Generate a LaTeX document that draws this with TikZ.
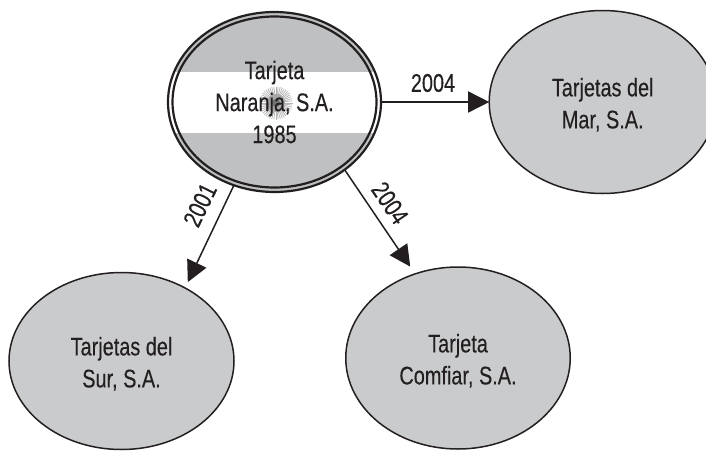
\documentclass[tikz,border=0pt]{standalone}
\usepackage{fontspec}
\setmainfont[FakeStretch=0.78,FakeBold=0.25]{Liberation Sans}
\usetikzlibrary{shapes.geometric,arrows.meta}
\definecolor{ink}{HTML}{231F20}
\definecolor{disc}{HTML}{C9CBCD}
\definecolor{band}{HTML}{BEC0C2}
\newcommand\lift{\rule{0pt}{24pt}}
\tikzset{
  disc/.style={ellipse,draw=ink,line width=1.5pt,fill=disc,inner sep=0pt,outer sep=0pt,text=ink,align=center,font=\fontsize{25.5}{32}\selectfont},
  ring/.style={ellipse,draw=ink,line width=2.2pt,inner sep=0pt,outer sep=0pt,text=ink,align=center,font=\fontsize{25.5}{32}\selectfont},
  link/.style={draw=ink,line width=1.5pt,-{Triangle[length=21pt,width=21pt,sep=0pt]}},
  year/.style={text=ink,inner sep=0pt,font=\fontsize{25.5}{28}\selectfont}
}
\begin{document}
\begin{tikzpicture}[x=1pt,y=-1pt]
\useasboundingbox (0,0) rectangle (706,450);
\clip (0,0) rectangle (706,450);
% flag inside the main ellipse
\begin{scope}
  \clip (274.5,102) ellipse [x radius=106.5pt,y radius=90pt];
  \fill[band] (160,0) rectangle (390,200);
  \fill[white] (160,72) rectangle (390,133);
  \foreach \a in {0,7.5,...,352.5}{
    \draw[gray!60,line width=0.7pt] (276,103) -- ++(\a:16.5pt);
  }
  \fill[gray!70] (276,103) circle (9pt);
  \fill[gray!90!black] (276,103) circle (4pt);
\end{scope}
\node[ring,minimum width=213pt,minimum height=180pt] (naranja) at (274.5,102) {};
\node[ring,minimum width=204pt,minimum height=171pt] (inner) at (274.5,102) {Tarjeta\\Naranja, S.A.\\1985};
\node[disc,minimum width=227pt,minimum height=183pt] (mar) at (602.7,102) {\lift Tarjetas del\\Mar, S.A.};
\node[disc,minimum width=225pt,minimum height=177pt] (sur) at (121.5,361) {\lift Tarjetas del\\Sur, S.A.};
\node[disc,minimum width=224.5pt,minimum height=182pt] (comfiar) at (458,358) {\lift Tarjeta\\Comfiar, S.A.};
\draw[link] (naranja.0) -- (mar.180);
\draw[link,shorten >=6.5pt] (naranja.-116.3) -- (sur.49.4);
\draw[link,shorten >=8.8pt] (naranja.-44.2) -- (comfiar.117.9);
\node[year] (y1) at (433,83) {2004};
\node[year,rotate=64] (y2) at (200,205) {2001};
\node[year,rotate=-56] (y3) at (390,203) {2004};
\end{tikzpicture}
\end{document}
